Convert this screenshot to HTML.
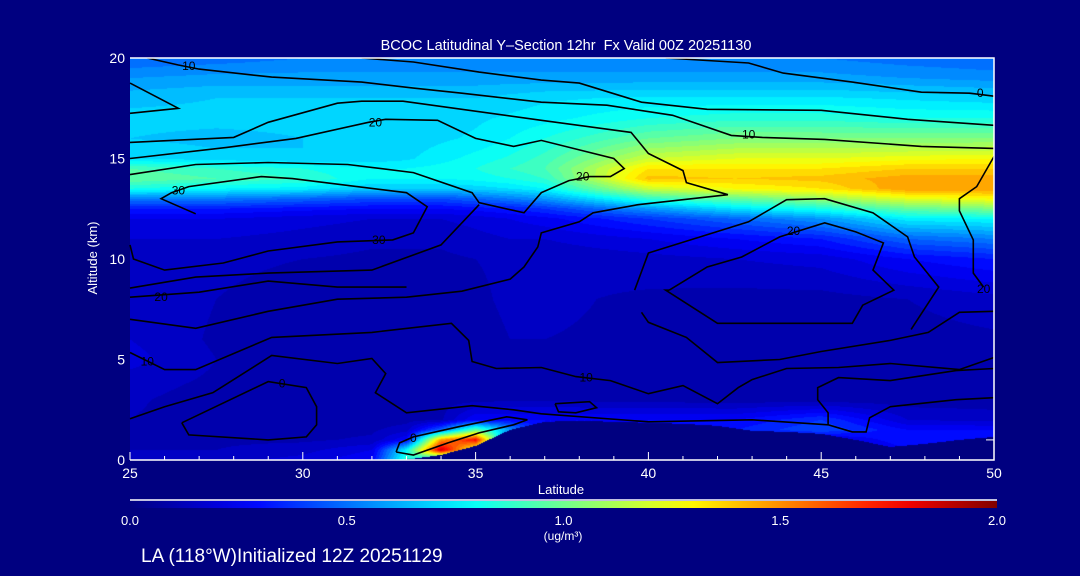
<!DOCTYPE html>
<html><head><meta charset="utf-8"><style>
html,body{margin:0;padding:0;background:#000080;}
#wrap{position:relative;width:1080px;height:576px;overflow:hidden;background:#000080;font-family:"Liberation Sans",sans-serif;color:#fff;}
canvas{position:absolute;left:130px;top:58px;}
svg{position:absolute;left:0;top:0;}
</style></head><body>
<div id="wrap">
<canvas id="cv" width="864" height="402"></canvas>
<svg id="sv" width="1080" height="576"></svg>
</div>
<script>
// ---- data ----
const lats=[25,27.5,30,32,33,34,35,36,37,40,42.5,45,47.5,50];
const alts=[0,0.5,1,1.5,2,3,4,5,6,8,10,11,12,12.5,13,13.5,14,14.5,15,16,17,18,19,20];
const field=[
[.15,.18,.22,.3,.9,.6,.2,.1,.1,.1,.1,.1,.2,.15],
[.15,.15,.18,.25,.8,1.9,1.2,.1,.1,.1,.1,.1,.3,.2],
[.15,.14,.14,.16,.3,1.5,1.8,.4,.2,.2,.2,.2,.35,.35],
[.15,.13,.13,.14,.18,.5,1.0,.6,.3,.3,.35,.45,.3,.3],
[.15,.12,.11,.12,.13,.14,.3,.3,.3,.3,.3,.4,.2,.18],
[.16,.12,.1,.1,.12,.13,.13,.14,.14,.13,.12,.12,.12,.12],
[.18,.14,.1,.1,.12,.13,.13,.14,.14,.13,.12,.12,.12,.12],
[.22,.15,.12,.12,.12,.13,.13,.14,.14,.14,.12,.12,.12,.12],
[.2,.14,.12,.12,.12,.13,.13,.15,.15,.14,.12,.12,.13,.14],
[.2,.15,.13,.13,.12,.13,.14,.16,.16,.14,.13,.13,.15,.18],
[.18,.16,.15,.14,.14,.14,.15,.16,.16,.18,.2,.22,.3,.35],
[.2,.2,.18,.16,.16,.16,.18,.2,.2,.25,.3,.35,.5,.55],
[.25,.25,.22,.2,.2,.2,.22,.25,.28,.4,.5,.6,.78,.8],
[.35,.35,.32,.3,.3,.3,.32,.35,.4,.6,.75,.85,1.0,1.05],
[.55,.55,.5,.45,.45,.45,.5,.55,.6,.9,1.0,1.1,1.25,1.3],
[.85,.8,.78,.7,.7,.7,.72,.75,.8,1.2,1.3,1.35,1.5,1.5],
[1.0,.95,.9,.8,.8,.8,.82,.85,.9,1.42,1.4,1.42,1.48,1.48],
[.95,.9,.85,.8,.8,.82,.85,.9,.95,1.35,1.35,1.35,1.4,1.4],
[.75,.72,.7,.72,.74,.78,.82,.86,.92,1.2,1.25,1.25,1.28,1.3],
[.7,.68,.7,.72,.72,.74,.76,.8,.85,1.0,1.05,1.05,1.05,1.05],
[.72,.72,.72,.72,.72,.72,.74,.76,.78,.85,.88,.88,.85,.85],
[.68,.7,.7,.7,.7,.7,.7,.72,.74,.76,.76,.76,.74,.72],
[.6,.62,.62,.62,.62,.62,.62,.62,.62,.62,.62,.62,.6,.58],
[.5,.52,.55,.55,.55,.55,.55,.55,.55,.55,.55,.55,.52,.5]
];
const terrainLat=[25,26,27,28,29,30,31,32,33,34,35,36,37,38,39,40,41,42,43,44,45,46,47,48,49,50];
const terrainKm=[0,0,0,0,0,0,0,0,0.02,0.25,0.7,1.5,1.9,1.95,1.9,1.85,1.8,1.7,1.45,1.4,1.3,1.0,0.65,0.8,1.0,1.15];
const contours=[
[[40.5,20],[42.9,19.75],[43.9,19.25],[45.9,18.8],[47.9,18.3],[49.3,18.25],[50,18.1]],
[[31.7,20],[33.2,19.8],[35.1,19.3],[36.9,18.9],[38,18.75],[39.8,17.8],[41.7,17.45],[45,17.4],[47.5,16.95],[50,16.65]],
[[25.5,20],[26.4,19.65],[27,19.45],[29.1,19.05],[31.7,18.8],[33.2,18.5],[34.6,18.25],[36.9,17.8],[38.8,17.65],[40.7,17.15],[42.4,16.15],[43.3,16.05],[45.1,15.95],[47.9,15.6],[50,15.5]],
[[25,18.75],[26.4,17.5],[25,17.25]],
[[25,15.8],[28,16.05],[29,16.8],[31,17.75],[31.7,17.85],[32.9,17.85],[36.9,16.9],[39.5,16.3],[40,15.25],[41,14.4],[41.1,13.8],[42.3,13.2],[39.7,12.7],[38.4,12.3],[38,11.85],[36.9,11.3],[36.8,10.6],[36.4,9.6],[36,9.0],[34.6,8.4],[33,8.1],[31,8.0],[29,7.4],[26.9,6.55],[25,7.0]],
[[25,15],[27.8,15.55],[29.8,16.0],[31.9,16.8],[32.4,16.95],[33.9,16.9],[35,16.0],[36.1,15.6],[36.9,15.9],[39,15.0],[39.3,14.5],[38.9,14.1],[38.3,14.1],[37.7,13.9],[36.9,13.3],[36.4,12.3],[35.1,12.8],[34.9,13.3],[33.2,14.3],[31.3,14.7],[29,14.8],[26.9,14.7],[25,14.2]],
[[26.9,12.25],[25.9,13.0],[26.2,13.3],[26.7,13.6],[28.8,14.1],[29.7,14.0],[33.0,13.3],[33.6,12.6],[33.2,11.3],[32.6,10.95],[31.0,10.85],[29.0,10.4],[27.7,9.8],[26.0,9.45],[25.1,10.0],[25,10.7]],
[[25,8.55],[26.9,9.1],[29,9.3],[32,9.45],[34,10.7],[35.1,12.7]],
[[25,8.1],[27,8.35],[29,8.9],[31,8.6],[33,8.6]],
[[25,5.35],[26,4.5],[26.9,4.5],[29.1,6.1],[32,6.35],[34.3,6.8],[34.8,5.95],[34.9,4.9],[35.6,4.55],[36.9,4.6],[37.9,4.15],[38.9,3.95],[40,3.3],[41,3.7],[42,2.8],[42.6,3.6],[43,4.0],[44,4.55],[45.5,4.6],[47,4.8],[49,4.5],[50,5.1]],
[[25,2.05],[26,2.65],[27.4,3.35],[29.1,5.2],[31,4.8],[32,5.05],[32.4,4.3],[32.1,3.35],[33,2.35],[34.9,2.7],[36.1,2.5],[36.9,2.3],[40,1.9],[43,2.0],[45.2,1.75]],
[[50,3.1],[48.9,3.0],[47,2.65],[46.4,2.1],[46.3,1.4],[45.9,1.4],[45.2,1.75],[45.2,2.35],[44.9,3.0],[44.9,3.6],[45.5,4.1],[47,3.95],[48.9,4.45],[50,4.55]],
[[26.5,1.85],[29,3.9],[30.1,3.6],[30.4,2.65],[30.4,1.75],[30.1,1.15],[29,1.0],[26.7,1.25],[26.5,1.85]],
[[32.7,0.4],[32.8,0.85],[33.2,1.15],[34.5,1.65],[35.9,2.15],[36.5,2.0],[36.1,1.75],[35.1,1.35],[34.2,0.85],[33.2,0.25],[32.7,0.4]],
[[39.8,7.35],[40,6.85],[41.1,6.1],[42,4.85],[43.8,5.0],[45,5.4],[47,5.95],[48.1,6.35],[49,7.35],[50,7.4]],
[[40.6,8.45],[41.7,9.6],[42.7,10.1],[43.8,11.1],[45.1,11.8],[46,11.35],[46.8,10.8],[46.5,9.45],[47.1,8.45],[46.2,7.7],[45.9,6.8],[42,6.8],[40.5,8.45],[40.6,8.45]],
[[39.6,8.45],[40,10.3],[41.5,11.1],[42.9,11.85],[44,12.95],[45.1,13.0],[46.5,12.3],[47.5,11.1],[47.7,10.1],[48.4,8.6],[47.6,6.5]],
[[50,15.1],[49.5,13.6],[49,13.0],[49,12.4],[49.4,10.95],[49.4,9.3],[49.7,8.6]],
[[37.3,2.8],[38.3,2.9],[38.5,2.6],[37.9,2.35],[37.4,2.4],[37.3,2.8]]
];
const labelText=["10","20","10","0","30","30","20","10","0","10","0","20","20","20"];
const labelLat=[26.7,32.1,42.9,49.6,26.4,32.2,25.9,25.5,29.4,38.2,33.2,38.1,44.2,49.7];
const labelAlt=[19.6,16.8,16.2,18.25,13.4,10.95,8.1,4.9,3.8,4.1,1.1,14.1,11.4,8.5];
const cbTicks=[0,0.5,1.0,1.5,2.0];
const xTicks=[25,30,35,40,45,50];
const yTicks=[0,5,10,15,20];

// ---- axes ----
const X0=130,X1=994,Y0=460,Y1=58;
const xs=l=>X0+(l-25)/25*(X1-X0);
const ys=a=>Y0-a/20*(Y0-Y1);
const cbx=v=>130+v/2*(997-130);

function jet(v){
  const t=Math.max(0,Math.min(1,v/2));
  const st=[[0,0,0,128],[0.14,0,0,255],[0.39,0,255,255],[0.64,255,255,0],[0.885,255,0,0],[1,128,0,0]];
  for(let i=1;i<st.length;i++){if(t<=st[i][0]){const a=st[i-1],b=st[i],f=(t-a[0])/(b[0]-a[0]);
    return [a[1]+(b[1]-a[1])*f,a[2]+(b[2]-a[2])*f,a[3]+(b[3]-a[3])*f];}}
  return [128,0,0];
}
function seg(arr,v){let i=0;while(i<arr.length-2&&v>arr[i+1])i++;const f=Math.max(0,Math.min(1,(v-arr[i])/(arr[i+1]-arr[i])));return [i,f];}
function terrain(l){const [i,f]=seg(terrainLat,l);return terrainKm[i]+(terrainKm[i+1]-terrainKm[i])*f;}

// ---- field ----
const cv=document.getElementById('cv'),ctx=cv.getContext('2d');
const W=cv.width,H=cv.height,img=ctx.createImageData(W,H);
for(let py=0;py<H;py++){
  const alt=(Y0-(Y1+py+0.5))/(Y0-Y1)*20;
  const [j,fy]=seg(alts,alt);
  for(let px=0;px<W;px++){
    const lat=25+(px+0.5)/W*25;
    const [i,fx]=seg(lats,lat);
    let v=(field[j][i]*(1-fx)+field[j][i+1]*fx)*(1-fy)+(field[j+1][i]*(1-fx)+field[j+1][i+1]*fx)*fy;
    if(alt<terrain(lat))v=0;
    v=Math.floor(v/0.05)*0.05;
    const c=jet(v),k=(py*W+px)*4;
    img.data[k]=c[0];img.data[k+1]=c[1];img.data[k+2]=c[2];img.data[k+3]=255;
  }
}
ctx.putImageData(img,0,0);

// ---- svg ----
const NS='http://www.w3.org/2000/svg',sv=document.getElementById('sv');
function mk(tag,attrs,parent){const e=document.createElementNS(NS,tag);for(const k in attrs)e.setAttribute(k,attrs[k]);(parent||sv).appendChild(e);return e;}
function txt(s,x,y,size,anchor,parent){const t=mk('text',{x:x,y:y,'font-size':size,fill:'#fff','text-anchor':anchor||'middle','font-family':'Liberation Sans, sans-serif'},parent);t.textContent=s;return t;}

const gC=mk('g',{});


contours.forEach(c=>{
  const p=mk('polyline',{points:c.map(q=>xs(q[0]).toFixed(1)+','+ys(q[1]).toFixed(1)).join(' '),fill:'none',stroke:'#000','stroke-width':1.6},gC);
  
  
});
labelText.forEach((s,k)=>{
  const t=txt(s,xs(labelLat[k]),ys(labelAlt[k])+4,12,'middle',gC);
  t.setAttribute('fill','#000');
  
  
});

// frame
const fr=mk('path',{d:`M${X0} ${Y0}H${X1}V${Y1}H${X0}`,fill:'none',stroke:'#fff','stroke-width':1.5});


for(let l=25;l<=50;l++){
  const major=xTicks.includes(l);
  const t=mk('line',{x1:xs(l),x2:xs(l),y1:Y0,y2:Y0-(major?8:4),stroke:'#fff','stroke-width':1});
  
  
}
xTicks.forEach(l=>{const t=txt(String(l),xs(l),Y0+18,14);
  
  });
yTicks.forEach(a=>{const t=txt(String(a),X0-5,ys(a)+5,14,'end');
  
  });
const rt=mk('line',{x1:X1,x2:X1-8,y1:ys(1),y2:ys(1),stroke:'#fff','stroke-width':1});



const title=txt('BCOC Latitudinal Y\u2013Section 12hr  Fx Valid 00Z 20251130',566,50,14.5);


title.setAttribute('xml:space','preserve');
title.style.whiteSpace='pre';
const xl=txt('Latitude',561,494,13);


const yl=txt('Altitude (km)',0,0,13);
yl.setAttribute('transform','translate(97,258) rotate(-90)');



// colorbar
const defs=mk('defs',{});
const grad=mk('linearGradient',{id:'jet',x1:0,x2:1,y1:0,y2:0},defs);
for(let s=0;s<=20;s++){const c=jet(s/10);mk('stop',{offset:s/20,'stop-color':`rgb(${c.map(Math.round).join(',')})`},grad);}
const cbl=mk('line',{x1:130,x2:997,y1:500,y2:500,stroke:'#fff','stroke-width':1.5});


const cb=mk('rect',{x:130,y:501,width:867,height:7,fill:'url(#jet)'});


cbTicks.forEach(v=>{const t=txt(v.toFixed(1),cbx(v),525,13);
  
  });
const un=txt('(ug/m\u00B3)',563,540,12);


const foot=txt('LA (118\u00B0W)Initialized 12Z 20251129',141,562,19,'start');


</script>
</body></html>
